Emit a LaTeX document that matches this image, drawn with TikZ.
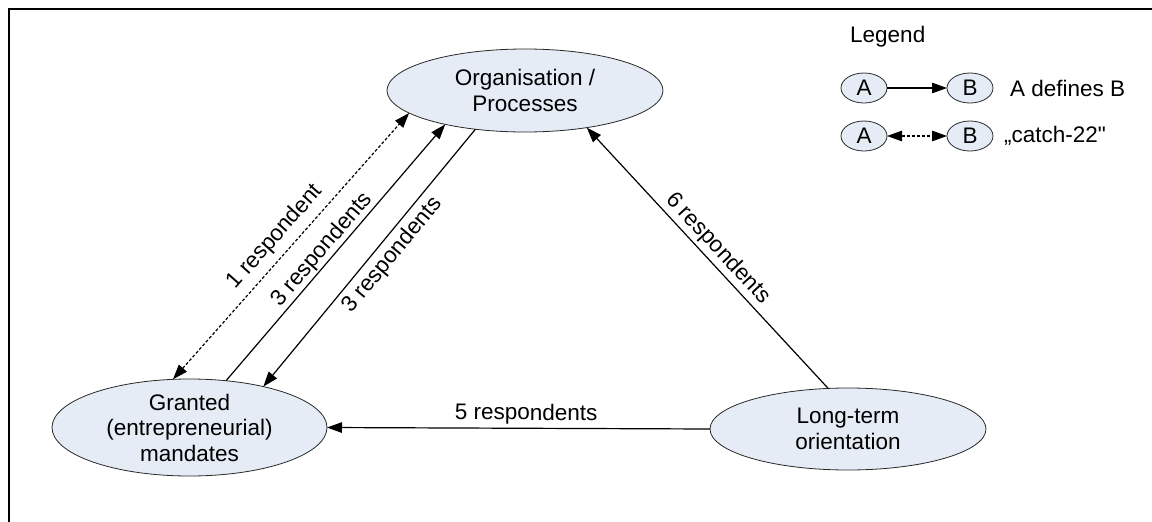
\documentclass[tikz,border=0pt]{standalone}
\usepackage{fontspec}
\setmainfont{Liberation Sans}
% same face without the TeX quote mapping, for a straight closing quote
\newfontfamily\rawsans{Liberation Sans}
\usetikzlibrary{shapes.geometric,arrows.meta}
\definecolor{bubble}{RGB}{230,236,246}
\definecolor{rim}{RGB}{40,40,40}
\begin{document}
\begin{tikzpicture}[x=1pt,y=-1pt,
  every node/.style={font=\fontsize{22.5}{25.5}\selectfont},
  concept/.style={ellipse, draw=rim, line width=0.8pt, fill=bubble,
    inner sep=0pt, outer sep=0pt, align=center,
    minimum width=276pt, minimum height=82pt},
  small/.style={ellipse, draw=rim, line width=0.8pt, fill=bubble,
    inner sep=0pt, outer sep=0pt, minimum width=46pt, minimum height=30pt},
  tipend/.tip={Triangle[length=15pt,width=10.5pt]},
  link/.style={line width=1.2pt, -tipend},
  mutual/.style={line width=1.2pt, dash pattern=on 3pt off 2pt, tipend-tipend},
  lbl/.style={inner sep=0pt, sloped},
  plain/.style={inner sep=0pt, anchor=west}
]
\useasboundingbox (0,0) rectangle (1152,522);

% frame
\draw[line width=2pt] (9,530) -- (9,9) -- (1160,9);

% concepts
\node[concept, minimum height=83pt] (org) at (525,90.5) {Organisation /\\Processes};
\node[concept, minimum width=275pt, minimum height=97pt, inner ysep=-2pt] (grant)
  at (189.5,427.5) {Granted\\(entrepreneurial)\\mandates};
\node[concept] (long) at (848,429) {Long-term\\orientation};

% relations
\draw[mutual] (grant.109) -- node[lbl, above=7pt, pos=0.49] {1 respondent} (org.191);
\draw[link] (grant.52) -- node[lbl, above=1pt, pos=0.48] {3 respondents} (org.203);
\draw[link] (org.218) -- node[lbl, below=5pt, pos=0.45] {3 respondents} (grant.29);
\draw[link] (long.116) -- node[lbl, above=3pt, pos=0.5] {6 respondents} (org.329);
\draw[link] (long.west) -- node[lbl, above=3pt, pos=0.48] {5 respondents} (grant.east);

% legend
\node[plain] (legend) at (850,37) {Legend};
\node[small] (a1) at (864,88) {A};
\node[small] (b1) at (970,88) {B};
\node[plain] (t1) at (1010,88) {A defines B};
\node[small] (a2) at (864,136) {A};
\node[small] (b2) at (970,136) {B};
\node[plain] (t2) at (1004,136) {\rawsans „catch-22"};
\draw[link] (a1) -- (b1);
\draw[mutual] (a2) -- (b2);
\end{tikzpicture}
\end{document}
